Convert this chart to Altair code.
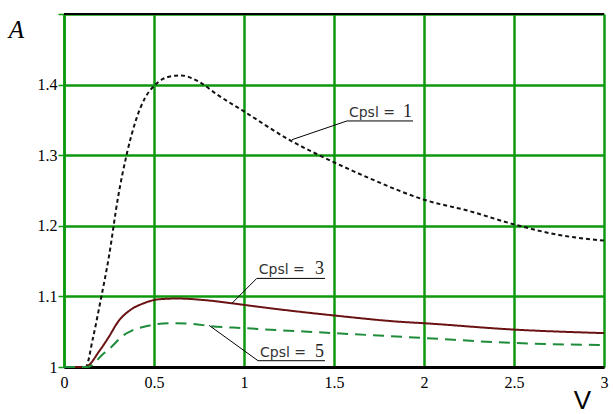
import altair as alt
import pandas as pd

# Amplification A versus velocity V for three values of Cpsl
v_cpsl1 = [0, 0.12, 0.16, 0.2, 0.25, 0.3, 0.35, 0.4, 0.45, 0.5, 0.55, 0.6, 0.65,
           0.75, 0.85, 1.0, 1.25, 1.5, 1.7, 2.0, 2.25, 2.5, 2.75, 3.0]
a_cpsl1 = [1.0, 1.0, 1.04, 1.09, 1.157, 1.24, 1.303, 1.35, 1.381, 1.398, 1.408, 1.412, 1.413,
           1.404, 1.386, 1.362, 1.322, 1.29, 1.267, 1.237, 1.221, 1.202, 1.187, 1.179]

v_cpsl3 = [0, 0.117, 0.2, 0.25, 0.3, 0.37, 0.44, 0.53, 0.63, 0.77, 0.94, 1.0,
           1.25, 1.5, 1.87, 2.0, 2.5, 3.0]
a_cpsl3 = [1.0, 1.0, 1.024, 1.043, 1.064, 1.081, 1.09, 1.096, 1.097, 1.095, 1.09, 1.088,
           1.080, 1.073, 1.064, 1.062, 1.053, 1.048]

v_cpsl5 = [0, 0.13, 0.22, 0.27, 0.32, 0.38, 0.46, 0.59, 0.72, 0.81, 1.0, 1.5, 2.0, 2.5, 3.0]
a_cpsl5 = [1.0, 1.0, 1.019, 1.03, 1.043, 1.052, 1.058, 1.062, 1.061, 1.058, 1.055,
           1.048, 1.041, 1.034, 1.031]

series = ["1", "3", "5"]
x_ticks = [0, 0.5, 1, 1.5, 2, 2.5, 3]
y_ticks = [1, 1.1, 1.2, 1.3, 1.4, 1.5]

# Callout labels: point on the curve, start and end of the underline
label_curve_v = [1.267, 0.932, 0.806]
label_curve_a = [1.322, 1.090, 1.059]
label_line_v = [1.572, 1.071, 1.078]
label_line_a = [1.3485, 1.1255, 1.0089]
label_end_v = [1.939, 1.45, 1.45]

curves = pd.concat([
    pd.DataFrame({"V": v, "A": a, "Cpsl": s})
    for v, a, s in [(v_cpsl1, a_cpsl1, "1"), (v_cpsl3, a_cpsl3, "3"), (v_cpsl5, a_cpsl5, "5")]
], ignore_index=True)

labels = pd.DataFrame({
    "Cpsl": series,
    "cv": label_curve_v, "ca": label_curve_a,
    "lv": label_line_v, "la": label_line_a,
    "ev": label_end_v,
    "prefix": ["Cpsl = "] * 3,
})

GREEN = "#0e980e"
SERIF = "Liberation Serif, Times New Roman, serif"
xscale = alt.Scale(domain=[0, 3], nice=False, zero=False)
yscale = alt.Scale(domain=[1, 1.5], nice=False, zero=False)

x_axis = alt.Axis(values=x_ticks, format="~g", title="V")
y_axis = alt.Axis(values=y_ticks, labelExpr="datum.value > 1.45 ? '' : format(datum.value, '~g')",
                  title="A")


def xq(field):
    return alt.X(field, scale=xscale, axis=x_axis)


def yq(field):
    return alt.Y(field, scale=yscale, axis=y_axis)


lines = alt.Chart(curves).mark_line(strokeWidth=2, interpolate="monotone").encode(
    x=xq("V:Q"), y=yq("A:Q"),
    color=alt.Color("Cpsl:N", scale=alt.Scale(domain=series, range=["#111111", "#6a1212", "#1e8c3a"]), legend=None),
    strokeDash=alt.StrokeDash("Cpsl:N", scale=alt.Scale(domain=series, range=[[4, 3], [1, 0], [11, 7]]), legend=None),
    order=alt.Order("V:Q"),
)

top_edge = alt.Chart(pd.DataFrame({"A": [1.5]})).mark_rule(color="black", strokeWidth=2).encode(
    y=yq("A:Q"))

leader = alt.Chart(labels).mark_rule(color="black", strokeWidth=1).encode(
    x=xq("cv:Q"), y=yq("ca:Q"), x2="lv:Q", y2="la:Q")

underline = alt.Chart(labels).mark_rule(color="black", strokeWidth=1).encode(
    x=xq("lv:Q"), y=yq("la:Q"), x2="ev:Q")

prefix_text = alt.Chart(labels).mark_text(
    align="left", baseline="alphabetic", dx=2, dy=-4,
    font="DejaVu Sans", fontSize=14, color="#333333").encode(
    x=xq("lv:Q"), y=yq("la:Q"), text="prefix:N")

number_text = alt.Chart(labels).mark_text(
    align="right", baseline="alphabetic", dx=-1, dy=-4,
    font=SERIF, fontSize=18, color="#222222").encode(
    x=xq("ev:Q"), y=yq("la:Q"), text="Cpsl:N")

chart = alt.layer(lines, top_edge, leader, underline, prefix_text, number_text).properties(
    width=540, height=353,
    padding={"left": 64, "top": 14, "right": 9, "bottom": 47},
    autosize=alt.AutoSizeParams(type="none"),
    background="white",
).configure_view(
    stroke=None
).configure_axis(
    grid=True, gridColor=GREEN, gridWidth=2.5, gridOpacity=1,
    labelFont=SERIF, labelFontSize=16, labelColor="black",
    titleColor="black", titleFontWeight="normal",
).configure_axisX(
    domainColor="black", domainWidth=3, ticks=False, labelPadding=7, labelFlush=False,
    titleFont="Liberation Sans", titleFontSize=26,
    titleX=518, titleY=41, titleBaseline="alphabetic", titleAlign="center",
).configure_axisY(
    domainColor=GREEN, domainWidth=2.5, tickColor=GREEN, tickSize=6, tickWidth=1.5, labelPadding=1,
    titleFont=SERIF, titleFontSize=25, titleFontStyle="italic", titleAngle=0,
    titleX=-48, titleY=23, titleBaseline="alphabetic", titleAlign="center",
)

chart.save("out.html", embed_options={"renderer": "svg", "actions": False})
